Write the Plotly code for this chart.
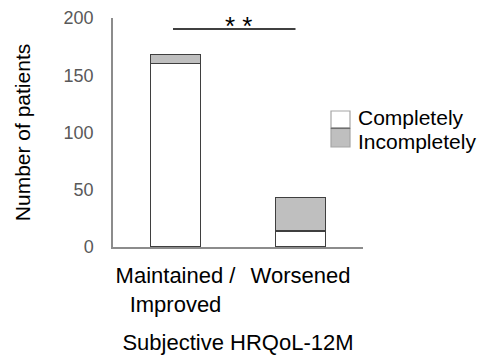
import plotly.graph_objects as go

categories = ["Maintained /<br>Improved", "Worsened"]
completely = [160, 14]
incompletely = [8, 29]
y_ticks = [0, 50, 100, 150, 200]
sig_label = "* *"

FONT = "Liberation Sans, Arial, sans-serif"
OFF = 8  # page body margin offset
W, H = 495 - OFF, 361 - OFF
# target pixel positions in the 495x361 viewport
PL, PR, PT, PB = 113, 363, 18, 247
L, T = PL - OFF, PT - OFF
R = W - (PR - OFF)
B = H - (PB - OFF)

fig = go.Figure()
fig.add_trace(go.Bar(
    x=categories, y=completely, name="Completely",
    marker=dict(color="#FFFFFF", line=dict(color="#3F3F3F", width=1.2)),
    width=0.4, showlegend=False,
))
fig.add_trace(go.Bar(
    x=categories, y=incompletely, name="Incompletely",
    marker=dict(color="#BFBFBF", line=dict(color="#3F3F3F", width=1.2)),
    width=0.4, showlegend=False,
))

pw = PR - PL
ph = PB - PT
def px(x):
    return (x - PL) / pw
def py(y):
    return (PB - y) / ph

shapes = [
    # significance bar
    dict(type="line", xref="x", yref="y", x0=-0.02, x1=0.96, y0=190.4, y1=190.4,
         line=dict(color="#000000", width=1.5)),
    # manual legend boxes
    dict(type="rect", xref="paper", yref="paper", x0=px(331), x1=px(350),
         y0=py(128.3), y1=py(111), fillcolor="#FFFFFF",
         line=dict(color="#A6A6A6", width=1.2)),
    dict(type="rect", xref="paper", yref="paper", x0=px(331), x1=px(350),
         y0=py(147), y1=py(128.3), fillcolor="#BFBFBF",
         line=dict(color="#A6A6A6", width=1.2)),
    dict(type="line", xref="paper", yref="paper", x0=px(331), x1=px(350),
         y0=py(128.3), y1=py(128.3), line=dict(color="#6E6E6E", width=1.5)),
]

annotations = [
    dict(text=sig_label, xref="paper", yref="paper", x=px(238), y=py(8.5), showarrow=False,
         font=dict(family=FONT, size=26, color="#000000"),
         xanchor="center", yanchor="top"),
    dict(text="Completely", xref="paper", yref="paper", x=px(356), y=py(117),
         showarrow=False, xanchor="left", yanchor="middle",
         font=dict(family=FONT, size=21, color="#000000")),
    dict(text="Incompletely", xref="paper", yref="paper", x=px(356), y=py(141),
         showarrow=False, xanchor="left", yanchor="middle",
         font=dict(family=FONT, size=21, color="#000000")),
]

fig.update_layout(
    width=W, height=H,
    margin=dict(l=L, r=R, t=T, b=B, pad=0),
    barmode="stack",
    plot_bgcolor="#FFFFFF", paper_bgcolor="#FFFFFF",
    font=dict(family=FONT, color="#000000"),
    shapes=shapes, annotations=annotations,
    showlegend=False,
)
fig.update_xaxes(
    automargin=False,
    showline=True, linecolor="#8C8C8C", linewidth=1.5,
    showgrid=False, zeroline=False, ticks="",
    tickfont=dict(size=22, color="#000000"),
    ticklabelstandoff=8,
    title=dict(text="Subjective HRQoL-12M", font=dict(size=22, color="#000000"), standoff=19),
)
fig.update_yaxes(
    automargin=False,
    range=[0, 200], tickvals=y_ticks,
    showline=True, linecolor="#8C8C8C", linewidth=1.5,
    showgrid=False, zeroline=False, ticks="",
    tickfont=dict(size=18, color="#595959"),
    ticklabelstandoff=14,
    title=dict(text="Number of patients", font=dict(size=21, color="#000000"), standoff=27),
)

fig.write_html("out.html")
